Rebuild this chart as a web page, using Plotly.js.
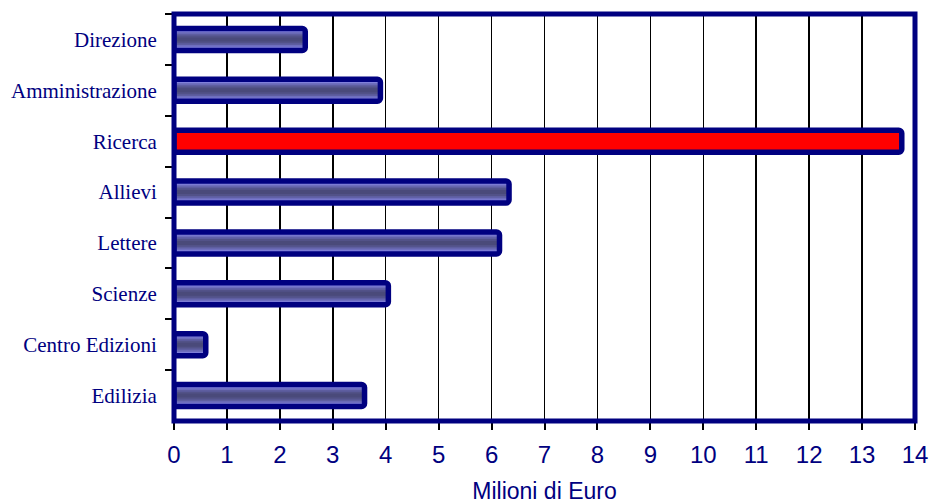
<!DOCTYPE html>
<html>
<head>
<meta charset="utf-8">
<script src="https://cdn.plot.ly/plotly-3.0.1.min.js"></script>
<style>html,body{margin:0;padding:0;background:#fff;}#chart{width:929px;height:504px;}</style>
</head>
<body>
<div id="chart"></div>
<script>
// Data
var categories = ["Direzione", "Amministrazione", "Ricerca", "Allievi", "Lettere", "Scienze", "Centro Edizioni", "Edilizia"];
var values = [2.48, 3.9, 13.75, 6.33, 6.15, 4.05, 0.6, 3.6];
var highlight = "Ricerca";
var xTicks = [0, 1, 2, 3, 4, 5, 6, 7, 8, 9, 10, 11, 12, 13, 14];

// Gradient layers (outer -> inner) for the cylinder effect
var layerWidths = [0.43, 0.36, 0.29, 0.22, 0.15, 0.08];
var layerColors = ["#8c8cf0", "#8080dc", "#6e6ebe", "#5e5ea0", "#525288", "#4a4a7a"];
var navy = "#000080";

var traces = [];
layerWidths.forEach(function (w, i) {
  traces.push({
    type: "bar",
    orientation: "h",
    y: categories,
    x: values,
    width: w,
    marker: {
      color: categories.map(function (c) { return c === highlight ? "#ff0000" : layerColors[i]; }),
      line: { width: 0 }
    },
    hoverinfo: "skip",
    showlegend: false
  });
});
// Outline on top
traces.push({
  type: "bar",
  orientation: "h",
  y: categories,
  x: values,
  width: 0.43,
  marker: {
    color: "rgba(0,0,0,0)",
    line: { width: 5.5, color: navy },
    cornerradius: 3
  },
  showlegend: false
});

var layout = {
  width: 929,
  height: 504,
  margin: { l: 174, r: 14, t: 14, b: 83 },
  paper_bgcolor: "#ffffff",
  plot_bgcolor: "#ffffff",
  barmode: "overlay",
  xaxis: {
    range: [0, 14],
    tickvals: xTicks,
    ticktext: xTicks.map(String),
    showgrid: true,
    gridcolor: "#000000",
    gridwidth: 1.5,
    zeroline: false,
    showline: true,
    linecolor: "#000000",
    linewidth: 2,
    ticks: "outside",
    ticklen: 7,
    tickwidth: 2,
    tickcolor: "#000000",
    tickfont: { family: "Liberation Sans, Arial, sans-serif", size: 24, color: navy },
    ticklabelstandoff: 4,
    title: { text: "Milioni di Euro", font: { family: "Liberation Sans, Arial, sans-serif", size: 23, color: navy }, standoff: 16 }
  },
  yaxis: {
    type: "category",
    autorange: "reversed",
    showgrid: false,
    zeroline: false,
    showline: true,
    linecolor: "#000000",
    linewidth: 2,
    ticks: "outside",
    tickson: "boundaries",
    ticklen: 7,
    tickwidth: 2,
    tickcolor: "#000000",
    tickfont: { family: "Liberation Serif, Times New Roman, serif", size: 21, color: navy },
    ticklabelstandoff: 11
  },
  shapes: [{
    type: "rect", xref: "paper", yref: "paper", x0: 0, x1: 1, y0: 0, y1: 1,
    line: { color: navy, width: 5 }, fillcolor: "rgba(0,0,0,0)", layer: "above"
  }]
};

Plotly.newPlot("chart", traces, layout, { displayModeBar: false, staticPlot: true });
</script>
</body>
</html>
